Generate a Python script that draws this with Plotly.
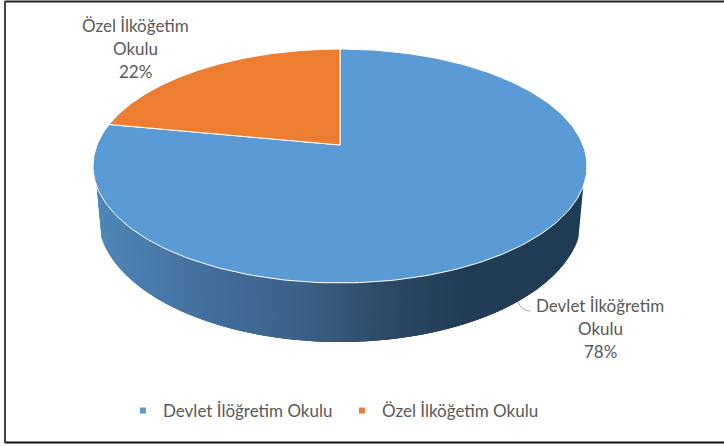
import numpy as np
import plotly.graph_objects as go

# ---- data ----
legend_names = ["Devlet İlöğretim Okulu", "Özel İlköğetim Okulu"]
label_lines = [["Devlet İlköğretim", "Okulu", "78%"], ["Özel İlköğetim", "Okulu", "22%"]]
values = [78, 22]
colors = ["#5B9BD5", "#ED7D31"]

# ---- projection of the pie disc to the page ----
W, H = 724, 446
CX, CY = 340, 145
C, K, D = 0.1795, 113.2, 243.0
DEPTH = 59
TEXT = "#595959"
FONT = "Lato"
FS = 17


def top(theta):
    X, Y = np.sin(theta), np.cos(theta)
    w = 1 + C * Y
    return CX + D * X / w, CY - K * Y / w


def bottom(theta):
    X, Y = np.sin(theta), np.cos(theta)
    w = 1 + C * Y
    return CX + 0.98 * D * X / w, CY - K * Y / w + DEPTH * (1 - C) / w


def side_color(x):
    xs = [93, 200, 300, 380, 470, 587]
    r = [80, 68, 59, 47, 33, 33]
    g = [136, 112, 98, 75, 60, 60]
    b = [186, 158, 137, 104, 85, 85]
    return "rgb(%d,%d,%d)" % (np.interp(x, xs, r), np.interp(x, xs, g), np.interp(x, xs, b))


fractions = np.array(values) / sum(values)
edges = np.concatenate([[0], np.cumsum(fractions)]) * 2 * np.pi

fig = go.Figure()

# side wall of the first slice: visible front part only, strips overlap to avoid seams
wall = np.radians(np.linspace(110, 250, 161))
wall = wall[(wall >= edges[0]) & (wall <= edges[1])]
for i in range(len(wall) - 1):
    t = wall[i:i + 4]
    xt, yt = top(t)
    xb, yb = bottom(t)
    col = side_color(xt[:2].mean())
    fig.add_trace(go.Scatter(
        x=np.concatenate([xt, xb[::-1]]), y=np.concatenate([yt, yb[::-1]]),
        mode="lines", fill="toself", fillcolor=col, line=dict(width=0),
        showlegend=False, hoverinfo="skip"))

# top faces
for i in range(len(values)):
    t = np.linspace(edges[i], edges[i + 1], 240)
    x, y = top(t)
    fig.add_trace(go.Scatter(
        x=np.concatenate([[CX], x, [CX]]), y=np.concatenate([[CY], y, [CY]]),
        mode="lines", fill="toself", fillcolor=colors[i], line=dict(color="#FFFFFF", width=1),
        showlegend=False, hoverinfo="skip"))

# legend
for name, col in zip(legend_names, colors):
    fig.add_trace(go.Scatter(x=[None], y=[None], mode="markers", name=name,
                             marker=dict(symbol="square", size=6, color=col)))

# data labels
label_pos = [(600, 305), (135.5, 25)]
for lines, (lx, ly) in zip(label_lines, label_pos):
    for j, line in enumerate(lines):
        fig.add_annotation(x=lx, y=ly + 23 * j, text=line, showarrow=False, xanchor="center",
                           yanchor="middle", font=dict(family=FONT, size=FS, color=TEXT))

fig.update_layout(
    width=W, height=H, autosize=False, margin=dict(l=0, r=0, t=0, b=0),
    paper_bgcolor="white", plot_bgcolor="white",
    xaxis=dict(range=[0, W], visible=False, domain=[0, 1], fixedrange=True),
    yaxis=dict(range=[H, 0], visible=False, domain=[0, 1], fixedrange=True),
    legend=dict(orientation="h", x=123 / W, xanchor="left", y=1 - 411 / H, yanchor="middle",
                font=dict(family=FONT, size=FS, color=TEXT), entrywidth=174, entrywidthmode="pixels",
                bgcolor="rgba(0,0,0,0)", itemclick=False, itemdoubleclick=False),
    shapes=[
        dict(type="line", xref="x", yref="y", x0=5, x1=W, y0=1.5, y1=1.5,
             line=dict(color="#222222", width=2)),
        dict(type="line", xref="x", yref="y", x0=5, x1=W, y0=442.5, y1=442.5,
             line=dict(color="#111111", width=2)),
        dict(type="line", xref="x", yref="y", x0=5, x1=5, y0=1, y1=443,
             line=dict(color="#444444", width=2)),
        dict(type="path", xref="x", yref="y", path="M 518 302 Q 522 311 530 311",
             line=dict(color="#A6A6A6", width=1)),
    ],
)

fig.write_html("out.html", config=dict(displayModeBar=False),
               post_script="document.body.style.margin='0';document.body.style.overflow='hidden';")
